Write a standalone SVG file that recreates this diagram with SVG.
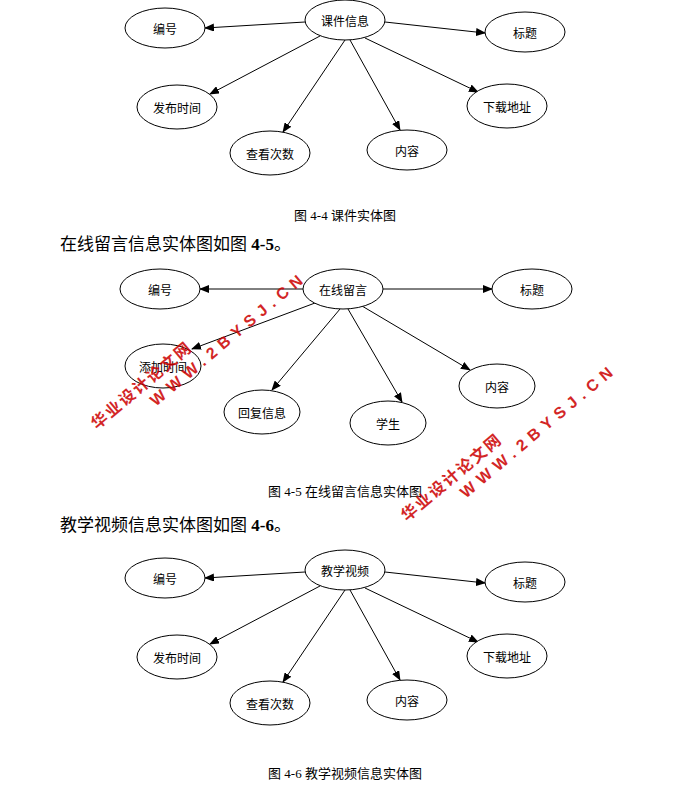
<svg xmlns="http://www.w3.org/2000/svg" width="692" height="787" viewBox="0 0 692 787">
<style>
ellipse{fill:#fff;stroke:#000;stroke-width:1}
.l{font-family:"Noto Sans CJK SC",sans-serif;font-size:12px;text-anchor:middle;dominant-baseline:central;fill:#000}
.c{font-family:"Liberation Serif","Noto Sans CJK SC",serif;font-size:13px;text-anchor:middle;fill:#000}
.h{font-family:"Liberation Serif","Noto Sans CJK SC",serif;font-size:17px;fill:#000}
#conn line{stroke:#000;stroke-width:1;marker-end:url(#a)}
.w{font-family:"Liberation Sans","Noto Sans CJK SC",sans-serif;font-weight:bold;font-size:16px;fill:#c00;opacity:.85;letter-spacing:2px}
.ww{letter-spacing:6px}
</style>
<defs><marker id="a" markerWidth="10" markerHeight="8" refX="9" refY="4" orient="auto" markerUnits="userSpaceOnUse"><path d="M0,0L10,4L0,8z" fill="#000"/></marker></defs>
<rect width="692" height="787" fill="#fff"/>
<g id="conn">
<line x1="305" y1="22" x2="205" y2="28"/><line x1="385" y1="22" x2="485" y2="33"/>
<line x1="320" y1="36" x2="210" y2="94"/><line x1="365" y1="38" x2="478" y2="92"/>
<line x1="345" y1="40" x2="283" y2="132"/><line x1="350" y1="40" x2="400" y2="130"/>
<line x1="303" y1="289" x2="200" y2="289"/><line x1="383" y1="289" x2="492" y2="289"/>
<line x1="315" y1="303" x2="192" y2="349"/><line x1="340" y1="309" x2="272" y2="390"/>
<line x1="348" y1="309" x2="402" y2="402"/><line x1="362" y1="306" x2="470" y2="370"/>
<g transform="translate(0,550)">
<line x1="305" y1="22" x2="205" y2="28"/><line x1="385" y1="22" x2="485" y2="33"/>
<line x1="320" y1="36" x2="210" y2="94"/><line x1="365" y1="38" x2="478" y2="92"/>
<line x1="345" y1="40" x2="283" y2="132"/><line x1="350" y1="40" x2="400" y2="130"/>
</g>
</g>
<g id="d1">
<g id="n1"><ellipse cx="345" cy="20" rx="40" ry="20"/><text class="l" x="345" y="20">课件信息</text></g>
<g id="n2"><ellipse cx="165" cy="28" rx="40" ry="20"/><text class="l" x="165" y="28">编号</text></g>
<g id="n3"><ellipse cx="525" cy="32" rx="40" ry="20"/><text class="l" x="525" y="32">标题</text></g>
<g id="n4"><ellipse cx="177" cy="107" rx="40" ry="22"/><text class="l" x="177" y="107">发布时间</text></g>
<g id="n5"><ellipse cx="507" cy="106" rx="40" ry="22"/><text class="l" x="507" y="106">下载地址</text></g>
<g id="n6"><ellipse cx="270" cy="153" rx="40" ry="22"/><text class="l" x="270" y="153">查看次数</text></g>
<g id="n7"><ellipse cx="407" cy="150" rx="40" ry="20"/><text class="l" x="407" y="150">内容</text></g>
</g>
<text class="c" x="345" y="220">图 4-4 课件实体图</text>
<text class="h" x="60" y="250">在线留言信息实体图如图 <tspan font-weight="bold">4-5</tspan>。</text>
<g id="d2">
<g id="m1"><ellipse cx="343" cy="289" rx="40" ry="20"/><text class="l" x="343" y="289">在线留言</text></g>
<g id="m2"><ellipse cx="160" cy="289" rx="40" ry="20"/><text class="l" x="160" y="289">编号</text></g>
<g id="m3"><ellipse cx="532" cy="289" rx="40" ry="20"/><text class="l" x="532" y="289">标题</text></g>
<g id="m4"><ellipse cx="163" cy="366" rx="38" ry="22"/><text class="l" x="163" y="366">添加时间</text></g>
<g id="m5"><ellipse cx="262" cy="412" rx="38" ry="22"/><text class="l" x="262" y="412">回复信息</text></g>
<g id="m6"><ellipse cx="388" cy="423" rx="38" ry="22"/><text class="l" x="388" y="423">学生</text></g>
<g id="m7"><ellipse cx="497" cy="386" rx="38" ry="22"/><text class="l" x="497" y="386">内容</text></g>
</g>
<text class="c" x="345" y="496">图 4-5 在线留言信息实体图</text>
<text class="h" x="60" y="531">教学视频信息实体图如图 <tspan font-weight="bold">4-6</tspan>。</text>
<g id="d3" transform="translate(0,550)">
<g id="k1"><ellipse cx="345" cy="20" rx="40" ry="20"/><text class="l" x="345" y="20">教学视频</text></g>
<g id="k2"><ellipse cx="165" cy="28" rx="40" ry="20"/><text class="l" x="165" y="28">编号</text></g>
<g id="k3"><ellipse cx="525" cy="32" rx="40" ry="20"/><text class="l" x="525" y="32">标题</text></g>
<g id="k4"><ellipse cx="177" cy="107" rx="40" ry="22"/><text class="l" x="177" y="107">发布时间</text></g>
<g id="k5"><ellipse cx="507" cy="106" rx="40" ry="22"/><text class="l" x="507" y="106">下载地址</text></g>
<g id="k6"><ellipse cx="270" cy="153" rx="40" ry="22"/><text class="l" x="270" y="153">查看次数</text></g>
<g id="k7"><ellipse cx="407" cy="150" rx="40" ry="20"/><text class="l" x="407" y="150">内容</text></g>
</g>
<text class="c" x="345" y="778">图 4-6 教学视频信息实体图</text>
<g id="wm">
<g transform="translate(97,430) rotate(-40)"><text class="w" x="0" y="0">华业设计论文网</text><text class="w ww" x="60" y="20">WWW.2BYSJ.CN</text></g>
<g transform="translate(407,522) rotate(-40)"><text class="w" x="0" y="0">华业设计论文网</text><text class="w ww" x="60" y="20">WWW.2BYSJ.CN</text></g>
</g>
</svg>
